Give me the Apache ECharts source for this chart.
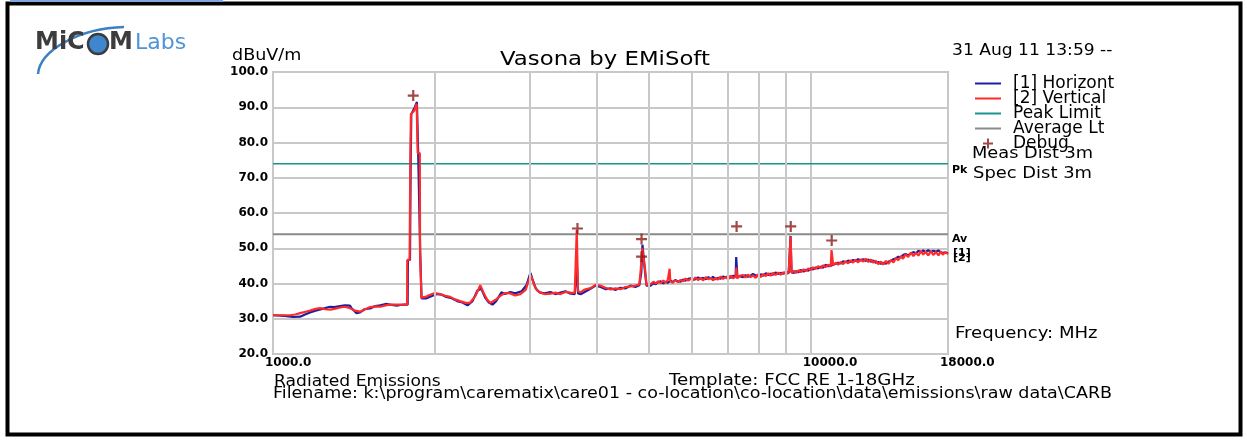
<!DOCTYPE html>
<html><head><meta charset="utf-8">
<script src="https://cdn.jsdelivr.net/npm/echarts@6/dist/echarts.min.js"></script>
<style>html,body{margin:0;padding:0;background:#fff}#c{width:1247px;height:440px}</style>
</head><body><div id="c"></div>
<script>
// ---- data (frequency MHz, level dBuV/m) ----
const horizontal = [[1000,31.0],[1050,30.8],[1090,30.5],[1123,30.6],[1150,31.3],[1172,31.8],[1200,32.3],[1250,33.0],[1277,33.4],[1300,33.3],[1333,33.6],[1360,33.8],[1391,33.7],[1400,33.0],[1430,31.6],[1452,31.8],[1480,32.7],[1516,32.9],[1550,33.6],[1582,33.8],[1620,34.2],[1651,34.0],[1700,33.7],[1724,33.9],[1760,34.0],[1780,34.0],[1782,46.7],[1798,46.7],[1803,74],[1808,88],[1835,90],[1852,91.5],[1860,91.5],[1862,77],[1876,77],[1878,49],[1887,49],[1889,35.8],[1930,35.8],[1980,36.5],[2020,37.0],[2060,36.8],[2100,36.2],[2150,35.8],[2200,35.0],[2250,34.6],[2300,33.8],[2350,35.0],[2400,38.0],[2440,38.5],[2480,36.0],[2520,34.6],[2560,34.0],[2600,35.0],[2660,37.5],[2700,37.0],[2763,37.6],[2820,37.2],[2900,37.8],[2960,39.5],[3011,43.0],[3040,41.0],[3080,38.6],[3130,37.5],[3200,37.2],[3280,37.6],[3350,37.0],[3424,37.4],[3500,37.8],[3560,37.2],[3640,37.0],[3670,37.2],[3675,45.0],[3688,45.0],[3692,37.2],[3740,37.0],[3820,37.8],[3900,38.6],[3980,39.4],[4065,39.0],[4160,38.4],[4243,38.6],[4340,38.2],[4429,38.8],[4520,38.6],[4624,39.4],[4720,39.0],[4800,39.5],[4840,43.0],[4865,51.0],[4895,51.0],[4920,43.0],[4950,39.4],[5038,39.4],[5100,40.1],[5150,39.8],[5200,40.4],[5258,40.6],[5320,40.0],[5370,40.5],[5420,40.2],[5489,40.8],[5540,40.4],[5600,41.0],[5660,40.6],[5729,40.5],[5790,41.1],[5850,40.8],[5920,41.3],[5980,41.5],[6040,41.0],[6100,41.2],[6170,41.7],[6242,41.3],[6310,41.6],[6380,41.2],[6450,41.8],[6516,41.4],[6580,41.9],[6650,41.2],[6720,41.6],[6801,41.4],[6870,42.0],[6950,41.7],[7020,42.1],[7099,41.6],[7170,42.2],[7250,41.9],[7268,47.5],[7290,47.5],[7305,42.0],[7350,41.7],[7406,42.0],[7480,41.8],[7560,42.4],[7640,41.9],[7731,42.2],[7810,42.7],[7900,42.3],[7980,42.1],[8070,42.6],[8160,42.2],[8250,42.9],[8340,42.4],[8423,42.8],[8510,42.5],[8600,43.1],[8700,42.7],[8793,43.0],[8900,42.8],[9000,43.3],[9100,42.9],[9160,43.1],[9172,53.5],[9195,53.5],[9210,43.2],[9300,43.0],[9400,43.5],[9500,43.2],[9580,43.8],[9700,43.4],[9800,43.9],[9900,43.6],[10000,44.3],[10100,44.0],[10200,44.5],[10320,44.3],[10438,44.8],[10550,44.5],[10650,45.3],[10780,44.9],[10896,45.0],[11010,45.4],[11150,45.6],[11250,45.9],[11373,45.7],[11490,46.3],[11600,46.0],[11740,46.5],[11872,46.1],[11990,46.7],[12100,46.4],[12250,46.9],[12392,46.5],[12520,46.9],[12650,46.4],[12800,46.8],[12935,46.2],[13060,46.5],[13200,45.9],[13350,46.1],[13502,45.6],[13650,45.9],[13800,45.6],[13950,46.2],[14093,46.4],[14250,46.9],[14400,47.1],[14550,47.6],[14711,47.4],[14850,48.1],[15000,48.4],[15180,48.0],[15356,48.5],[15520,48.9],[15700,48.6],[15860,49.3],[16029,48.8],[16190,49.4],[16350,48.9],[16540,49.5],[16731,48.9],[16900,49.3],[17100,49.0],[17280,49.4],[17465,48.7],[17600,49.2],[17800,48.8],[18000,48.6]];
const vertical = [[1000,31.0],[1030,31.0],[1076,31.0],[1100,31.2],[1123,31.6],[1150,32.0],[1172,32.3],[1200,32.8],[1223,33.0],[1250,32.7],[1277,32.6],[1300,32.8],[1333,33.2],[1360,33.4],[1391,33.0],[1420,32.3],[1452,32.0],[1480,32.6],[1516,33.3],[1550,33.5],[1582,33.4],[1620,33.8],[1651,34.0],[1690,34.0],[1724,34.0],[1760,34.0],[1776,34.0],[1777,46.7],[1795,46.7],[1800,74],[1805,88],[1830,89],[1850,91],[1856,91],[1858,77],[1875,77],[1877,49],[1886,49],[1888,36],[1920,36.2],[1960,36.8],[2000,37.3],[2046,37.0],[2090,36.5],[2136,36.2],[2180,35.5],[2229,35.0],[2280,34.5],[2327,34.6],[2380,36.5],[2429,39.5],[2470,37.0],[2500,35.5],[2536,34.5],[2590,35.3],[2647,36.5],[2700,37.3],[2763,37.2],[2820,36.6],[2884,37.0],[2950,38.2],[3000,41.5],[3020,42.3],[3060,39.5],[3100,38.0],[3143,37.4],[3200,37.0],[3281,37.1],[3350,37.4],[3424,37.0],[3500,37.6],[3574,37.4],[3640,37.3],[3670,37.6],[3672,55.2],[3690,55.2],[3692,37.8],[3731,37.5],[3800,38.3],[3895,38.7],[3980,39.6],[4065,39.4],[4150,38.8],[4243,38.3],[4330,38.6],[4429,38.4],[4520,39.0],[4624,39.2],[4720,39.4],[4800,39.7],[4830,44.0],[4860,50.0],[4900,50.0],[4920,44.0],[4950,39.6],[5038,39.8],[5100,40.5],[5150,40.0],[5200,40.6],[5258,40.1],[5320,40.8],[5370,40.3],[5420,40.9],[5450,40.5],[5465,44.2],[5480,40.6],[5540,40.2],[5600,40.9],[5660,40.4],[5729,41.0],[5790,40.6],[5850,41.4],[5920,40.8],[5980,41.3],[6040,40.9],[6100,41.7],[6170,41.0],[6242,41.5],[6310,40.9],[6380,41.8],[6450,41.2],[6516,41.6],[6580,40.9],[6650,41.5],[6720,41.1],[6801,42.0],[6870,41.3],[6950,41.8],[7020,41.2],[7099,42.2],[7170,41.5],[7250,41.9],[7275,44.5],[7300,41.4],[7350,42.1],[7406,41.6],[7480,42.4],[7560,41.7],[7640,42.5],[7731,41.8],[7810,42.3],[7900,41.6],[7980,42.6],[8070,41.8],[8160,42.7],[8250,42.1],[8340,42.9],[8423,42.2],[8510,43.0],[8600,42.4],[8700,43.1],[8793,42.5],[8900,43.2],[9000,42.6],[9100,43.3],[9160,42.8],[9175,53.3],[9200,53.3],[9215,43.0],[9300,43.6],[9400,43.0],[9500,43.8],[9580,43.2],[9700,44.0],[9800,43.5],[9900,44.3],[10000,43.8],[10100,44.6],[10200,44.1],[10320,44.9],[10438,44.4],[10550,45.2],[10650,44.6],[10780,45.3],[10896,44.9],[10930,49.5],[10980,49.5],[11010,45.2],[11150,45.9],[11250,45.3],[11373,46.1],[11490,45.5],[11600,46.3],[11740,45.7],[11872,46.6],[11990,45.9],[12100,46.7],[12250,46.0],[12392,46.9],[12520,46.2],[12650,47.0],[12800,46.1],[12935,46.8],[13060,45.9],[13200,46.5],[13350,45.5],[13502,46.2],[13650,45.4],[13800,46.4],[13950,45.6],[14093,46.6],[14250,46.0],[14400,47.2],[14550,46.6],[14711,47.8],[14850,47.0],[15000,48.3],[15180,47.5],[15356,48.8],[15520,47.8],[15700,48.7],[15860,47.9],[16029,49.3],[16190,48.2],[16350,49.0],[16540,48.0],[16731,49.2],[16900,48.1],[17100,48.9],[17280,48.0],[17465,49.1],[17600,48.2],[17800,48.9],[18000,48.3]];
const peakLimit = [[1000,74],[18000,74]];
const averageLimit = [[1000,54],[18000,54]];
const debugMarks = [[1823,93.3],[3683,55.6],[4846,52.6],[4846,47.6],[7280,56.2],[9180,56.2],[10940,52.2]];
const minorGridFreqs = [2000,3000,4000,5000,6000,7000,8000,9000];
const seriesNames = ['[1] Horizontal','[2] Vertical','Peak Limit','Average Lt','Debug'];
const yMin = 20, yMax = 100, yStep = 10;
const xMin = 1000, xMax = 18000;

const chart = echarts.init(document.getElementById('c'));
const F = 'DejaVu Sans';
const plusPath = 'path://M4,0H6V4H10V6H6V10H4V6H0V4H4Z';
const linePath = 'path://M0,4H26V6H0Z';
function txt(x, y, text, size, sx, extra) {
  return Object.assign({type: 'text', x: x, y: y, scaleX: sx || 1,
    style: Object.assign({text: text, fontFamily: F, fontSize: size, fill: '#000', textVerticalAlign: 'top', verticalAlign: 'top'}, extra || {})});
}
chart.setOption({
  animation: false,
  backgroundColor: '#fff',
  legend: {
    orient: 'vertical', left: 970, top: 70, itemWidth: 26, itemHeight: 10, itemGap: -2,
    data: seriesNames.map((n, i) => ({name: n, icon: i === 4 ? plusPath : linePath})),
    textStyle: {fontFamily: F, fontSize: 17, color: '#000', width: 110, overflow: 'truncate', ellipsis: '', padding: [0,0,0,7]}
  },
  grid: {left: 273, right: 299, top: 72, bottom: 86, show: true, borderColor: '#c0c0c0', borderWidth: 2},
  xAxis: {
    type: 'log', logBase: 10, min: xMin, max: xMax,
    axisLine: {show: false}, axisTick: {show: false},
    splitLine: {show: true, lineStyle: {color: '#c8c8c8', width: 2}},
    axisLabel: {fontFamily: F, fontWeight: 'bold', fontSize: 12, color: '#000', margin: 3, align: 'left', padding: [0,0,0,-8],
      showMinLabel: true, showMaxLabel: true,
      formatter: v => Math.round(v).toFixed(1)}
  },
  yAxis: {
    type: 'value', min: yMin, max: yMax, interval: yStep,
    axisLine: {show: false}, axisTick: {show: false},
    splitLine: {show: true, lineStyle: {color: '#c8c8c8', width: 2}},
    axisLabel: {fontFamily: F, fontWeight: 'bold', fontSize: 12, color: '#000', margin: 5, padding: [0,0,5,0],
      formatter: v => v.toFixed(1)}
  },
  series: [
    {name: 'grid', type: 'line', data: [], z: 1, silent: true,
      markLine: {silent: true, symbol: 'none', label: {show: false}, animation: false,
        lineStyle: {color: '#c8c8c8', width: 2, type: 'solid'},
        data: minorGridFreqs.map(f => ({xAxis: f}))}},
    {name: seriesNames[0], type: 'line', data: horizontal, showSymbol: false, symbol: 'none', z: 3,
      lineStyle: {color: '#1e1ea0', width: 2.2}, itemStyle: {color: '#1e1ea0'}},
    {name: seriesNames[1], type: 'line', data: vertical, showSymbol: false, symbol: 'none', z: 4,
      lineStyle: {color: '#ff2a2a', width: 2.2}, itemStyle: {color: '#ff2a2a'}},
    {name: seriesNames[2], type: 'line', data: peakLimit, showSymbol: false, symbol: 'none', z: 2,
      lineStyle: {color: '#17958c', width: 1.5}, itemStyle: {color: '#17958c'}},
    {name: seriesNames[3], type: 'line', data: averageLimit, showSymbol: false, symbol: 'none', z: 2,
      lineStyle: {color: '#8a8a8a', width: 2}, itemStyle: {color: '#8a8a8a'}},
    {name: seriesNames[4], type: 'scatter', data: debugMarks, symbol: plusPath, symbolSize: 11, z: 5,
      itemStyle: {color: '#8b1a1a'}}
  ],
  graphic: [
    {type: 'rect', shape: {x: 7.5, y: 3.5, width: 1233, height: 431}, style: {fill: 'none', stroke: '#000', lineWidth: 4}, z: 10},
    {type: 'rect', shape: {x: 10, y: 0, width: 213, height: 2}, style: {fill: '#7ea6e0'}, z: 11},
    // logo
    {type: 'bezierCurve', shape: {x1: 38, y1: 74, cpx1: 40, cpy1: 50, cpx2: 80, cpy2: 28, x2: 124, y2: 27}, style: {stroke: '#3b7fc4', lineWidth: 2.5, fill: 'none'}, z: 11},
    {type: 'text', x: 35, y: 31, style: {text: 'MiC', fontFamily: F, fontWeight: 'bold', fontSize: 24, fill: '#3c3c3c', verticalAlign: 'top'}, z: 12},
    {type: 'circle', shape: {cx: 98, cy: 44, r: 10}, style: {fill: '#3f86cf', stroke: '#3c3c3c', lineWidth: 2.5}, z: 12},
    {type: 'text', x: 109, y: 31, style: {text: 'M', fontFamily: F, fontWeight: 'bold', fontSize: 24, fill: '#3c3c3c', verticalAlign: 'top'}, z: 12},
    {type: 'text', x: 135, y: 32, style: {text: 'Labs', fontFamily: F, fontSize: 22, fill: '#4f95d6', verticalAlign: 'top'}, z: 12},
    // texts
    txt(500, 51, 'Vasona by EMiSoft', 19, 1.2),
    txt(232, 49, 'dBuV/m', 15, 1.17),
    txt(952, 43, '31 Aug 11 13:59 --', 16, 1.07),
    txt(972, 146, 'Meas Dist 3m', 16, 1.11),
    txt(973, 166, 'Spec Dist 3m', 16, 1.12),
    txt(952, 165, 'Pk', 11, 1, {fontWeight: 'bold'}),
    txt(952, 234, 'Av', 11, 1, {fontWeight: 'bold'}),
    txt(953, 248, '[1]', 11, 1, {fontWeight: 'bold'}),
    txt(953, 253, '[2]', 11, 1, {fontWeight: 'bold'}),
    txt(955, 326, 'Frequency: MHz', 16, 1.13),
    txt(274, 374, 'Radiated Emissions', 16, 1.07),
    txt(669, 373, 'Template: FCC RE 1-18GHz', 16, 1.14),
    txt(273, 386, 'Filename: k:\\program\\carematix\\care01 - co-location\\co-location\\data\\emissions\\raw data\\CARB', 16, 1.095)
  ]
});
</script></body></html>
